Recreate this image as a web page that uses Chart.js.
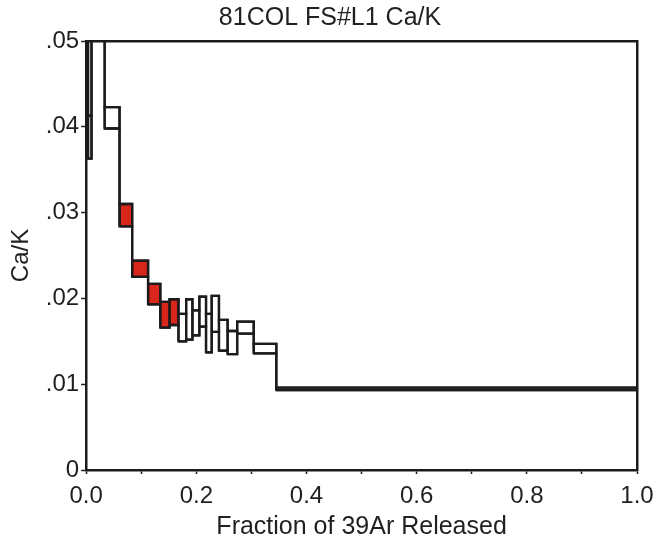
<!DOCTYPE html>
<html>
<head>
<meta charset="utf-8">
<script src="https://cdn.jsdelivr.net/npm/chart.js@4"></script>
<style>
    body { margin: 0; background: #fff; }
</style>
</head>
<body>
<canvas id="caKChart" width="653" height="545"></canvas>
<script>
//Step heating data
//cumulative fraction of 39Ar at each step boundary
const fracEdges = [0, 0.0034, 0.0097, 0.0336, 0.0606, 0.0835, 0.1124, 0.1346, 0.1514,
    0.1676, 0.1815, 0.1929, 0.2055, 0.2176, 0.2279, 0.2411, 0.2568, 0.2741, 0.3042, 0.3452, 1.0
];
//Ca/K error box for each step (low and high end)
const caKLow = [0.0413, 0.0363, 0.052, 0.0398, 0.0284, 0.0225, 0.0193, 0.0166, 0.0169, 0.0150,
    0.0152, 0.0157, 0.0167, 0.0137, 0.0161, 0.0139, 0.0135, 0.0159, 0.0136, 0.0093
];
const caKHigh = [0.065, 0.0413, 0.058, 0.0423, 0.0310, 0.0244, 0.0217, 0.0196, 0.0199, 0.0182,
    0.0199, 0.0186, 0.0202, 0.0182, 0.0203, 0.0175, 0.0162, 0.0173, 0.0147, 0.0096
];
//steps shown in red
const plateauSteps = [5, 6, 7, 8, 9];

const xTicks = [0, 0.2, 0.4, 0.6, 0.8, 1.0];
const yTicks = [0, 0.01, 0.02, 0.03, 0.04, 0.05];

const lineColor = '#1c1a1a';
const redFill = '#d8261c';
const textColor = '#231f20';
const fontFamily = '"Liberation Sans", Arial, sans-serif';

//one closed box per step
const boxSets = caKLow.map(function(lo, i) {
    const x0 = fracEdges[i];
    const x1 = fracEdges[i + 1];
    const hi = caKHigh[i];
    const red = plateauSteps.includes(i + 1);
    return {
        data: [{x: x0, y: lo}, {x: x0, y: hi}, {x: x1, y: hi}, {x: x1, y: lo}, {x: x0, y: lo}],
        showLine: true,
        borderColor: lineColor,
        borderWidth: 2.3,
        backgroundColor: red ? redFill : 'rgba(0,0,0,0)',
        fill: red ? 'shape' : false,
        pointRadius: 0,
        tension: 0,
    };
});

//lower and upper edges joined, gives the vertical links between steps
function edgePath(values) {
    const pts = [];
    values.forEach(function(v, i) {
        pts.push({x: fracEdges[i], y: v});
        pts.push({x: fracEdges[i + 1], y: v});
    });
    return pts;
}
const linkSets = [caKLow, caKHigh].map(function(values) {
    return {
        data: edgePath(values),
        showLine: true,
        borderColor: lineColor,
        borderWidth: 2.3,
        fill: false,
        pointRadius: 0,
        tension: 0,
    };
});

const caKChart = new Chart(
    document.getElementById('caKChart'),
    {
        type: 'scatter',
        data: {
            datasets: boxSets.concat(linkSets)
        },
        options: {
            responsive: false,
            animation: false,
            layout: {
                padding: {left: 7, right: 0, bottom: 3}
            },
            plugins: {
                legend: { display: false },
                tooltip: { enabled: false },
                filler: { drawTime: 'beforeDatasetsDraw' },
                title: {
                    display: true,
                    text: '81COL FS#L1 Ca/K',
                    color: textColor,
                    font: { family: fontFamily, size: 25, weight: 'normal', lineHeight: 1.2 },
                    padding: { top: 3, bottom: 8 }
                }
            },
            scales: {
                x: {
                    type: 'linear',
                    min: 0,
                    max: 1,
                    afterBuildTicks: function(axis) {
                        axis.ticks = [];
                        for (let k = 0; k <= 10; k++) axis.ticks.push({value: k / 10});
                    },
                    //"1.0" runs into the right margin, fixed height under the plot
                    afterFit: function(axis) {
                        axis.paddingRight = 16;
                        axis.height = 72;
                    },
                    ticks: {
                        color: textColor,
                        font: { family: fontFamily, size: 24, lineHeight: 0.37 },
                        padding: 18,
                        maxRotation: 0,
                        autoSkip: false,
                        callback: function(v) {
                            return xTicks.some(t => Math.abs(t - v) < 1e-9) ? v.toFixed(1) : '';
                        }
                    },
                    grid: { drawOnChartArea: false, color: lineColor, tickLength: 4, tickWidth: 1.5 },
                    border: { color: lineColor, width: 2.5 },
                    title: {
                        display: true,
                        text: 'Fraction of 39Ar Released',
                        color: textColor,
                        font: { family: fontFamily, size: 25, lineHeight: 1.2 },
                        padding: { top: 0, bottom: 0 }
                    }
                },
                y: {
                    type: 'linear',
                    min: 0,
                    max: 0.05,
                    afterBuildTicks: function(axis) {
                        axis.ticks = yTicks.map(v => ({value: v}));
                    },
                    ticks: {
                        color: textColor,
                        font: { family: fontFamily, size: 24 },
                        padding: 2,
                        callback: function(v) {
                            return v === 0 ? '0' : v.toFixed(2).slice(1);
                        }
                    },
                    grid: { drawOnChartArea: false, color: lineColor, tickLength: 5, tickWidth: 1.5 },
                    border: { color: lineColor, width: 2.5 },
                    title: {
                        display: true,
                        text: 'Ca/K',
                        color: textColor,
                        font: { family: fontFamily, size: 24 },
                        padding: { top: 0, bottom: 8 }
                    }
                },
                xTop: {
                    position: 'top',
                    ticks: { display: false },
                    grid: { display: false, drawTicks: false },
                    border: { color: lineColor, width: 2.5 }
                },
                yRight: {
                    position: 'right',
                    ticks: { display: false },
                    grid: { display: false, drawTicks: false },
                    border: { color: lineColor, width: 2.5 }
                }
            }
        }
    }
);
</script>
</body>
</html>
